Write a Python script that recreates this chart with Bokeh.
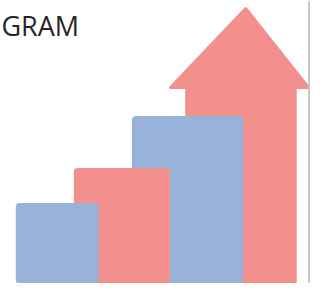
from bokeh.plotting import figure
from bokeh.models import Range1d, Span
from bokeh.core.properties import value
from bokeh.embed import file_html
from bokeh.resources import INLINE

# ---- data (baseline = 0) ----
bar_values = [85, 122, 177]          # three stepped bars
bar_colors = ["#98B2D9", "#F3908E", "#98B2D9"]
arrow_value = 292                    # height of the big arrow tip
title_text = "GRAM"

# ---- layout (reference pixel units) ----
bar_left = [16, 77, 138]
bar_right = [103, 178, 255]
H = 299
W = 335

p = figure(width=319, height=283, output_backend="svg", toolbar_location=None,
           x_range=Range1d(0, W), y_range=Range1d(0, H),
           min_border=0, background_fill_color="white", border_fill_color="white")
p.axis.visible = False
p.grid.visible = False
p.outline_line_color = None

# arrow (drawn first, behind the bars)
inset = 1.5
tip_x = 257.5
head_base = H - 92
shaft_l, shaft_r = 194, 311
head_l, head_r = 177, 325
ax = [shaft_l + inset, shaft_l + inset, head_l + inset, tip_x, head_r - inset, shaft_r - inset, shaft_r - inset]
ay = [-10, head_base, head_base, arrow_value - inset, head_base, head_base, -10]
p.patch(ax, ay, fill_color="#F3908E", line_color="#F3908E", line_width=3, line_join="round")

# bars, back to front
for i in [2, 1, 0]:
    xc = (bar_left[i] + bar_right[i]) / 2
    w = bar_right[i] - bar_left[i]
    p.vbar(x=[xc], width=w, top=[bar_values[i]], bottom=-10,
           fill_color=bar_colors[i], line_color=None, border_radius=4)

# title fragment
p.text(x=[1], y=[H - 26], text=[title_text], text_align="left", text_baseline="alphabetic",
       text_font=value("Open Sans"), text_font_size="27px", text_color="#262626")

# right-hand border line
p.add_layout(Span(location=324, dimension="height", line_color="#C8C8C8", line_width=2))

open("out.html", "w").write(file_html(p, INLINE))
